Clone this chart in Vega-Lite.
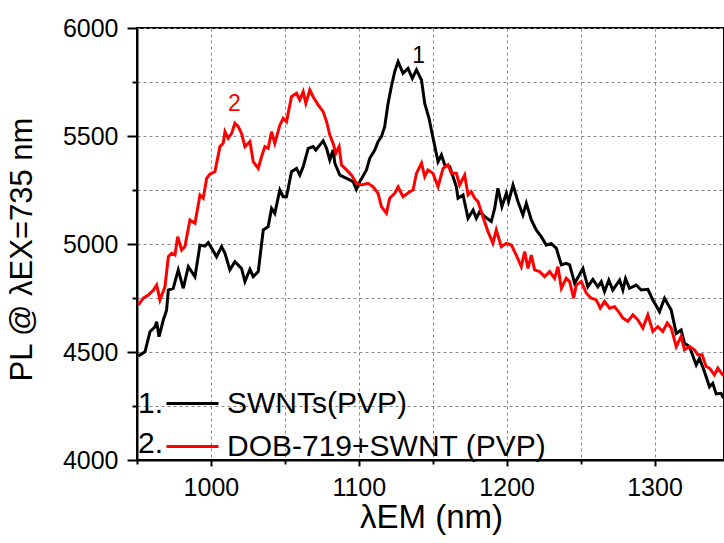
{
  "$schema": "https://vega.github.io/schema/vega-lite/v6.json",
  "width": 587,
  "height": 432,
  "autosize": {"type": "none"},
  "padding": {"left": 137, "top": 28, "right": 0, "bottom": 83},
  "config": {"font": "Liberation Sans", "view": {"stroke": "#000000", "strokeWidth": 2}},
  "datasets": {
    "spectra": [
      {"nm":950.9,"pl":4481,"s":"SWNTs(PVP)"},{"nm":955.4,"pl":4501,"s":"SWNTs(PVP)"},{"nm":958.8,"pl":4594,"s":"SWNTs(PVP)"},{"nm":962.2,"pl":4617,"s":"SWNTs(PVP)"},{"nm":963.3,"pl":4640,"s":"SWNTs(PVP)"},{"nm":964.9,"pl":4571,"s":"SWNTs(PVP)"},{"nm":967.8,"pl":4648,"s":"SWNTs(PVP)"},{"nm":970,"pl":4694,"s":"SWNTs(PVP)"},{"nm":971.2,"pl":4787,"s":"SWNTs(PVP)"},{"nm":974.5,"pl":4795,"s":"SWNTs(PVP)"},{"nm":977.9,"pl":4880,"s":"SWNTs(PVP)"},{"nm":981.3,"pl":4795,"s":"SWNTs(PVP)"},{"nm":984.7,"pl":4895,"s":"SWNTs(PVP)"},{"nm":989.2,"pl":4849,"s":"SWNTs(PVP)"},{"nm":992.6,"pl":4995,"s":"SWNTs(PVP)"},{"nm":995.9,"pl":4990,"s":"SWNTs(PVP)"},{"nm":998.2,"pl":5006,"s":"SWNTs(PVP)"},{"nm":1001,"pl":4975,"s":"SWNTs(PVP)"},{"nm":1003.8,"pl":4941,"s":"SWNTs(PVP)"},{"nm":1007.2,"pl":4988,"s":"SWNTs(PVP)"},{"nm":1009.5,"pl":4957,"s":"SWNTs(PVP)"},{"nm":1012.8,"pl":4880,"s":"SWNTs(PVP)"},{"nm":1016.2,"pl":4918,"s":"SWNTs(PVP)"},{"nm":1020.7,"pl":4887,"s":"SWNTs(PVP)"},{"nm":1023,"pl":4826,"s":"SWNTs(PVP)"},{"nm":1026.4,"pl":4883,"s":"SWNTs(PVP)"},{"nm":1028.6,"pl":4849,"s":"SWNTs(PVP)"},{"nm":1032,"pl":4872,"s":"SWNTs(PVP)"},{"nm":1035.4,"pl":5065,"s":"SWNTs(PVP)"},{"nm":1038.7,"pl":5080,"s":"SWNTs(PVP)"},{"nm":1041,"pl":5165,"s":"SWNTs(PVP)"},{"nm":1043.2,"pl":5142,"s":"SWNTs(PVP)"},{"nm":1046.6,"pl":5250,"s":"SWNTs(PVP)"},{"nm":1048.9,"pl":5219,"s":"SWNTs(PVP)"},{"nm":1051.1,"pl":5219,"s":"SWNTs(PVP)"},{"nm":1054.5,"pl":5335,"s":"SWNTs(PVP)"},{"nm":1057.9,"pl":5350,"s":"SWNTs(PVP)"},{"nm":1060.1,"pl":5319,"s":"SWNTs(PVP)"},{"nm":1062.4,"pl":5358,"s":"SWNTs(PVP)"},{"nm":1065.8,"pl":5443,"s":"SWNTs(PVP)"},{"nm":1069.1,"pl":5451,"s":"SWNTs(PVP)"},{"nm":1070.9,"pl":5435,"s":"SWNTs(PVP)"},{"nm":1073.6,"pl":5458,"s":"SWNTs(PVP)"},{"nm":1075.9,"pl":5478,"s":"SWNTs(PVP)"},{"nm":1078.2,"pl":5443,"s":"SWNTs(PVP)"},{"nm":1080.4,"pl":5389,"s":"SWNTs(PVP)"},{"nm":1082.6,"pl":5435,"s":"SWNTs(PVP)"},{"nm":1083.8,"pl":5374,"s":"SWNTs(PVP)"},{"nm":1087.2,"pl":5319,"s":"SWNTs(PVP)"},{"nm":1091.7,"pl":5304,"s":"SWNTs(PVP)"},{"nm":1096.2,"pl":5289,"s":"SWNTs(PVP)"},{"nm":1098.4,"pl":5253,"s":"SWNTs(PVP)"},{"nm":1100.7,"pl":5289,"s":"SWNTs(PVP)"},{"nm":1105.2,"pl":5343,"s":"SWNTs(PVP)"},{"nm":1107.4,"pl":5397,"s":"SWNTs(PVP)"},{"nm":1110.8,"pl":5435,"s":"SWNTs(PVP)"},{"nm":1113,"pl":5474,"s":"SWNTs(PVP)"},{"nm":1115.3,"pl":5497,"s":"SWNTs(PVP)"},{"nm":1117.5,"pl":5543,"s":"SWNTs(PVP)"},{"nm":1119.8,"pl":5651,"s":"SWNTs(PVP)"},{"nm":1122,"pl":5728,"s":"SWNTs(PVP)"},{"nm":1124.3,"pl":5798,"s":"SWNTs(PVP)"},{"nm":1126.6,"pl":5844,"s":"SWNTs(PVP)"},{"nm":1129.9,"pl":5790,"s":"SWNTs(PVP)"},{"nm":1133.3,"pl":5813,"s":"SWNTs(PVP)"},{"nm":1136.2,"pl":5767,"s":"SWNTs(PVP)"},{"nm":1139,"pl":5806,"s":"SWNTs(PVP)"},{"nm":1142.4,"pl":5759,"s":"SWNTs(PVP)"},{"nm":1144.6,"pl":5651,"s":"SWNTs(PVP)"},{"nm":1147.5,"pl":5582,"s":"SWNTs(PVP)"},{"nm":1149.1,"pl":5528,"s":"SWNTs(PVP)"},{"nm":1153.6,"pl":5381,"s":"SWNTs(PVP)"},{"nm":1155.9,"pl":5412,"s":"SWNTs(PVP)"},{"nm":1158.1,"pl":5366,"s":"SWNTs(PVP)"},{"nm":1161.5,"pl":5358,"s":"SWNTs(PVP)"},{"nm":1166,"pl":5265,"s":"SWNTs(PVP)"},{"nm":1167.1,"pl":5212,"s":"SWNTs(PVP)"},{"nm":1170.5,"pl":5227,"s":"SWNTs(PVP)"},{"nm":1173.9,"pl":5119,"s":"SWNTs(PVP)"},{"nm":1177.3,"pl":5157,"s":"SWNTs(PVP)"},{"nm":1179.5,"pl":5119,"s":"SWNTs(PVP)"},{"nm":1181.8,"pl":5150,"s":"SWNTs(PVP)"},{"nm":1185.1,"pl":5127,"s":"SWNTs(PVP)"},{"nm":1189.6,"pl":5104,"s":"SWNTs(PVP)"},{"nm":1191.9,"pl":5165,"s":"SWNTs(PVP)"},{"nm":1194.1,"pl":5258,"s":"SWNTs(PVP)"},{"nm":1196.8,"pl":5173,"s":"SWNTs(PVP)"},{"nm":1199.8,"pl":5235,"s":"SWNTs(PVP)"},{"nm":1201.3,"pl":5196,"s":"SWNTs(PVP)"},{"nm":1204.3,"pl":5273,"s":"SWNTs(PVP)"},{"nm":1207.7,"pl":5196,"s":"SWNTs(PVP)"},{"nm":1211,"pl":5134,"s":"SWNTs(PVP)"},{"nm":1213.3,"pl":5188,"s":"SWNTs(PVP)"},{"nm":1216.7,"pl":5111,"s":"SWNTs(PVP)"},{"nm":1220,"pl":5065,"s":"SWNTs(PVP)"},{"nm":1223.4,"pl":5034,"s":"SWNTs(PVP)"},{"nm":1226.8,"pl":4995,"s":"SWNTs(PVP)"},{"nm":1230.2,"pl":5003,"s":"SWNTs(PVP)"},{"nm":1233.6,"pl":4980,"s":"SWNTs(PVP)"},{"nm":1237,"pl":4903,"s":"SWNTs(PVP)"},{"nm":1240.3,"pl":4910,"s":"SWNTs(PVP)"},{"nm":1242.6,"pl":4903,"s":"SWNTs(PVP)"},{"nm":1246,"pl":4818,"s":"SWNTs(PVP)"},{"nm":1251.6,"pl":4887,"s":"SWNTs(PVP)"},{"nm":1254.9,"pl":4802,"s":"SWNTs(PVP)"},{"nm":1258.3,"pl":4836,"s":"SWNTs(PVP)"},{"nm":1261.7,"pl":4802,"s":"SWNTs(PVP)"},{"nm":1264,"pl":4826,"s":"SWNTs(PVP)"},{"nm":1266.2,"pl":4779,"s":"SWNTs(PVP)"},{"nm":1269.1,"pl":4833,"s":"SWNTs(PVP)"},{"nm":1271.8,"pl":4787,"s":"SWNTs(PVP)"},{"nm":1276.4,"pl":4833,"s":"SWNTs(PVP)"},{"nm":1278.6,"pl":4787,"s":"SWNTs(PVP)"},{"nm":1280.4,"pl":4840,"s":"SWNTs(PVP)"},{"nm":1283.1,"pl":4795,"s":"SWNTs(PVP)"},{"nm":1287.6,"pl":4810,"s":"SWNTs(PVP)"},{"nm":1291,"pl":4787,"s":"SWNTs(PVP)"},{"nm":1295.5,"pl":4790,"s":"SWNTs(PVP)"},{"nm":1298.9,"pl":4741,"s":"SWNTs(PVP)"},{"nm":1303.4,"pl":4687,"s":"SWNTs(PVP)"},{"nm":1306.8,"pl":4749,"s":"SWNTs(PVP)"},{"nm":1311.3,"pl":4694,"s":"SWNTs(PVP)"},{"nm":1314.7,"pl":4586,"s":"SWNTs(PVP)"},{"nm":1318,"pl":4602,"s":"SWNTs(PVP)"},{"nm":1320.3,"pl":4540,"s":"SWNTs(PVP)"},{"nm":1323.6,"pl":4525,"s":"SWNTs(PVP)"},{"nm":1328.2,"pl":4440,"s":"SWNTs(PVP)"},{"nm":1330.4,"pl":4471,"s":"SWNTs(PVP)"},{"nm":1333.8,"pl":4409,"s":"SWNTs(PVP)"},{"nm":1337.2,"pl":4339,"s":"SWNTs(PVP)"},{"nm":1339.4,"pl":4355,"s":"SWNTs(PVP)"},{"nm":1341.7,"pl":4306,"s":"SWNTs(PVP)"},{"nm":1345,"pl":4309,"s":"SWNTs(PVP)"},{"nm":1346.6,"pl":4286,"s":"SWNTs(PVP)"},
      {"nm":950.9,"pl":4718,"s":"DOB-719+SWNT (PVP)"},{"nm":954.3,"pl":4749,"s":"DOB-719+SWNT (PVP)"},{"nm":957.7,"pl":4764,"s":"DOB-719+SWNT (PVP)"},{"nm":961.1,"pl":4787,"s":"DOB-719+SWNT (PVP)"},{"nm":963.3,"pl":4810,"s":"DOB-719+SWNT (PVP)"},{"nm":965.5,"pl":4741,"s":"DOB-719+SWNT (PVP)"},{"nm":968.9,"pl":4802,"s":"DOB-719+SWNT (PVP)"},{"nm":971.2,"pl":4941,"s":"DOB-719+SWNT (PVP)"},{"nm":973.4,"pl":4957,"s":"DOB-719+SWNT (PVP)"},{"nm":975.7,"pl":4949,"s":"DOB-719+SWNT (PVP)"},{"nm":977.5,"pl":5034,"s":"DOB-719+SWNT (PVP)"},{"nm":980.2,"pl":4972,"s":"DOB-719+SWNT (PVP)"},{"nm":982.4,"pl":4988,"s":"DOB-719+SWNT (PVP)"},{"nm":985.8,"pl":5111,"s":"DOB-719+SWNT (PVP)"},{"nm":989.2,"pl":5096,"s":"DOB-719+SWNT (PVP)"},{"nm":992.6,"pl":5227,"s":"DOB-719+SWNT (PVP)"},{"nm":994.8,"pl":5212,"s":"DOB-719+SWNT (PVP)"},{"nm":997.1,"pl":5304,"s":"DOB-719+SWNT (PVP)"},{"nm":999.3,"pl":5323,"s":"DOB-719+SWNT (PVP)"},{"nm":1002.7,"pl":5335,"s":"DOB-719+SWNT (PVP)"},{"nm":1006.1,"pl":5451,"s":"DOB-719+SWNT (PVP)"},{"nm":1008.3,"pl":5466,"s":"DOB-719+SWNT (PVP)"},{"nm":1009.5,"pl":5520,"s":"DOB-719+SWNT (PVP)"},{"nm":1011.7,"pl":5489,"s":"DOB-719+SWNT (PVP)"},{"nm":1014,"pl":5512,"s":"DOB-719+SWNT (PVP)"},{"nm":1016.2,"pl":5559,"s":"DOB-719+SWNT (PVP)"},{"nm":1018.5,"pl":5543,"s":"DOB-719+SWNT (PVP)"},{"nm":1020.7,"pl":5512,"s":"DOB-719+SWNT (PVP)"},{"nm":1023,"pl":5451,"s":"DOB-719+SWNT (PVP)"},{"nm":1026.4,"pl":5474,"s":"DOB-719+SWNT (PVP)"},{"nm":1028.6,"pl":5381,"s":"DOB-719+SWNT (PVP)"},{"nm":1032,"pl":5350,"s":"DOB-719+SWNT (PVP)"},{"nm":1034.2,"pl":5404,"s":"DOB-719+SWNT (PVP)"},{"nm":1036.5,"pl":5451,"s":"DOB-719+SWNT (PVP)"},{"nm":1038.7,"pl":5443,"s":"DOB-719+SWNT (PVP)"},{"nm":1041,"pl":5520,"s":"DOB-719+SWNT (PVP)"},{"nm":1043.2,"pl":5466,"s":"DOB-719+SWNT (PVP)"},{"nm":1046.6,"pl":5550,"s":"DOB-719+SWNT (PVP)"},{"nm":1048.9,"pl":5582,"s":"DOB-719+SWNT (PVP)"},{"nm":1051.1,"pl":5566,"s":"DOB-719+SWNT (PVP)"},{"nm":1054.5,"pl":5682,"s":"DOB-719+SWNT (PVP)"},{"nm":1057.9,"pl":5698,"s":"DOB-719+SWNT (PVP)"},{"nm":1060.1,"pl":5667,"s":"DOB-719+SWNT (PVP)"},{"nm":1062.4,"pl":5705,"s":"DOB-719+SWNT (PVP)"},{"nm":1064.2,"pl":5651,"s":"DOB-719+SWNT (PVP)"},{"nm":1066.9,"pl":5713,"s":"DOB-719+SWNT (PVP)"},{"nm":1069.1,"pl":5682,"s":"DOB-719+SWNT (PVP)"},{"nm":1072.5,"pl":5644,"s":"DOB-719+SWNT (PVP)"},{"nm":1075.9,"pl":5613,"s":"DOB-719+SWNT (PVP)"},{"nm":1078.2,"pl":5566,"s":"DOB-719+SWNT (PVP)"},{"nm":1080.4,"pl":5505,"s":"DOB-719+SWNT (PVP)"},{"nm":1082.6,"pl":5466,"s":"DOB-719+SWNT (PVP)"},{"nm":1084.5,"pl":5420,"s":"DOB-719+SWNT (PVP)"},{"nm":1086.7,"pl":5451,"s":"DOB-719+SWNT (PVP)"},{"nm":1088.3,"pl":5366,"s":"DOB-719+SWNT (PVP)"},{"nm":1091.7,"pl":5343,"s":"DOB-719+SWNT (PVP)"},{"nm":1095.1,"pl":5319,"s":"DOB-719+SWNT (PVP)"},{"nm":1098.4,"pl":5281,"s":"DOB-719+SWNT (PVP)"},{"nm":1101.8,"pl":5273,"s":"DOB-719+SWNT (PVP)"},{"nm":1106.3,"pl":5281,"s":"DOB-719+SWNT (PVP)"},{"nm":1109.7,"pl":5265,"s":"DOB-719+SWNT (PVP)"},{"nm":1113,"pl":5235,"s":"DOB-719+SWNT (PVP)"},{"nm":1115.3,"pl":5173,"s":"DOB-719+SWNT (PVP)"},{"nm":1118.7,"pl":5142,"s":"DOB-719+SWNT (PVP)"},{"nm":1120.9,"pl":5212,"s":"DOB-719+SWNT (PVP)"},{"nm":1124.3,"pl":5235,"s":"DOB-719+SWNT (PVP)"},{"nm":1126.6,"pl":5265,"s":"DOB-719+SWNT (PVP)"},{"nm":1129.9,"pl":5219,"s":"DOB-719+SWNT (PVP)"},{"nm":1134.5,"pl":5242,"s":"DOB-719+SWNT (PVP)"},{"nm":1136.7,"pl":5250,"s":"DOB-719+SWNT (PVP)"},{"nm":1139,"pl":5327,"s":"DOB-719+SWNT (PVP)"},{"nm":1142.4,"pl":5374,"s":"DOB-719+SWNT (PVP)"},{"nm":1144.6,"pl":5312,"s":"DOB-719+SWNT (PVP)"},{"nm":1146.8,"pl":5343,"s":"DOB-719+SWNT (PVP)"},{"nm":1150.2,"pl":5327,"s":"DOB-719+SWNT (PVP)"},{"nm":1153.6,"pl":5265,"s":"DOB-719+SWNT (PVP)"},{"nm":1157,"pl":5350,"s":"DOB-719+SWNT (PVP)"},{"nm":1160.3,"pl":5366,"s":"DOB-719+SWNT (PVP)"},{"nm":1162.6,"pl":5327,"s":"DOB-719+SWNT (PVP)"},{"nm":1166,"pl":5327,"s":"DOB-719+SWNT (PVP)"},{"nm":1168.2,"pl":5273,"s":"DOB-719+SWNT (PVP)"},{"nm":1171.6,"pl":5319,"s":"DOB-719+SWNT (PVP)"},{"nm":1173.9,"pl":5227,"s":"DOB-719+SWNT (PVP)"},{"nm":1176.1,"pl":5242,"s":"DOB-719+SWNT (PVP)"},{"nm":1178.4,"pl":5212,"s":"DOB-719+SWNT (PVP)"},{"nm":1180.6,"pl":5196,"s":"DOB-719+SWNT (PVP)"},{"nm":1182.9,"pl":5150,"s":"DOB-719+SWNT (PVP)"},{"nm":1184.7,"pl":5111,"s":"DOB-719+SWNT (PVP)"},{"nm":1187.4,"pl":5057,"s":"DOB-719+SWNT (PVP)"},{"nm":1190.7,"pl":5003,"s":"DOB-719+SWNT (PVP)"},{"nm":1193,"pl":5065,"s":"DOB-719+SWNT (PVP)"},{"nm":1196.4,"pl":4988,"s":"DOB-719+SWNT (PVP)"},{"nm":1199.8,"pl":5003,"s":"DOB-719+SWNT (PVP)"},{"nm":1203.2,"pl":4995,"s":"DOB-719+SWNT (PVP)"},{"nm":1206.5,"pl":4949,"s":"DOB-719+SWNT (PVP)"},{"nm":1209.9,"pl":4895,"s":"DOB-719+SWNT (PVP)"},{"nm":1212.2,"pl":4965,"s":"DOB-719+SWNT (PVP)"},{"nm":1214.4,"pl":4887,"s":"DOB-719+SWNT (PVP)"},{"nm":1216.7,"pl":4949,"s":"DOB-719+SWNT (PVP)"},{"nm":1218.9,"pl":4880,"s":"DOB-719+SWNT (PVP)"},{"nm":1222.3,"pl":4872,"s":"DOB-719+SWNT (PVP)"},{"nm":1225.7,"pl":4849,"s":"DOB-719+SWNT (PVP)"},{"nm":1229.1,"pl":4872,"s":"DOB-719+SWNT (PVP)"},{"nm":1232.4,"pl":4841,"s":"DOB-719+SWNT (PVP)"},{"nm":1234.7,"pl":4895,"s":"DOB-719+SWNT (PVP)"},{"nm":1237,"pl":4795,"s":"DOB-719+SWNT (PVP)"},{"nm":1240.3,"pl":4841,"s":"DOB-719+SWNT (PVP)"},{"nm":1242.6,"pl":4826,"s":"DOB-719+SWNT (PVP)"},{"nm":1245.3,"pl":4749,"s":"DOB-719+SWNT (PVP)"},{"nm":1247.1,"pl":4810,"s":"DOB-719+SWNT (PVP)"},{"nm":1250.5,"pl":4826,"s":"DOB-719+SWNT (PVP)"},{"nm":1253.9,"pl":4772,"s":"DOB-719+SWNT (PVP)"},{"nm":1257.3,"pl":4749,"s":"DOB-719+SWNT (PVP)"},{"nm":1260.6,"pl":4741,"s":"DOB-719+SWNT (PVP)"},{"nm":1263.3,"pl":4703,"s":"DOB-719+SWNT (PVP)"},{"nm":1266.2,"pl":4734,"s":"DOB-719+SWNT (PVP)"},{"nm":1269.6,"pl":4703,"s":"DOB-719+SWNT (PVP)"},{"nm":1273,"pl":4710,"s":"DOB-719+SWNT (PVP)"},{"nm":1276.4,"pl":4680,"s":"DOB-719+SWNT (PVP)"},{"nm":1278.6,"pl":4657,"s":"DOB-719+SWNT (PVP)"},{"nm":1282,"pl":4642,"s":"DOB-719+SWNT (PVP)"},{"nm":1285.4,"pl":4672,"s":"DOB-719+SWNT (PVP)"},{"nm":1288.7,"pl":4649,"s":"DOB-719+SWNT (PVP)"},{"nm":1292.1,"pl":4611,"s":"DOB-719+SWNT (PVP)"},{"nm":1295.5,"pl":4672,"s":"DOB-719+SWNT (PVP)"},{"nm":1298.9,"pl":4595,"s":"DOB-719+SWNT (PVP)"},{"nm":1302.3,"pl":4618,"s":"DOB-719+SWNT (PVP)"},{"nm":1305.6,"pl":4595,"s":"DOB-719+SWNT (PVP)"},{"nm":1308.6,"pl":4634,"s":"DOB-719+SWNT (PVP)"},{"nm":1311.3,"pl":4611,"s":"DOB-719+SWNT (PVP)"},{"nm":1314.7,"pl":4525,"s":"DOB-719+SWNT (PVP)"},{"nm":1318,"pl":4572,"s":"DOB-719+SWNT (PVP)"},{"nm":1320.3,"pl":4510,"s":"DOB-719+SWNT (PVP)"},{"nm":1323.6,"pl":4525,"s":"DOB-719+SWNT (PVP)"},{"nm":1327,"pl":4510,"s":"DOB-719+SWNT (PVP)"},{"nm":1329.3,"pl":4487,"s":"DOB-719+SWNT (PVP)"},{"nm":1332.2,"pl":4487,"s":"DOB-719+SWNT (PVP)"},{"nm":1334.9,"pl":4433,"s":"DOB-719+SWNT (PVP)"},{"nm":1337.2,"pl":4425,"s":"DOB-719+SWNT (PVP)"},{"nm":1340.5,"pl":4394,"s":"DOB-719+SWNT (PVP)"},{"nm":1342.8,"pl":4425,"s":"DOB-719+SWNT (PVP)"},{"nm":1346.6,"pl":4390,"s":"DOB-719+SWNT (PVP)"}
    ],
    "ann": [
      {"nm": 1140.5, "pl": 5838, "num": "1", "s": "SWNTs(PVP)"},
      {"nm": 1015.9, "pl": 5616, "num": "2", "s": "DOB-719+SWNT (PVP)"}
    ]
  },
  "layer": [
    {
      "data": {"name": "spectra"},
      "mark": {"type": "line", "strokeWidth": 3, "clip": true},
      "encoding": {
        "x": {
          "field": "nm", "type": "quantitative",
          "scale": {"domain": [950, 1347], "nice": false, "zero": false},
          "title": "λEM (nm)",
          "axis": {
            "values": [950, 1000, 1050, 1100, 1150, 1200, 1250, 1300],
            "format": "d",
            "labelExpr": "datum.value % 100 === 0 ? datum.label : ''",
            "tickSize": {"condition": {"test": "datum.value % 100 === 0", "value": 6}, "value": 4},
            "tickColor": "#000000", "tickWidth": 2,
            "domainColor": "#000000", "domainWidth": 2,
            "labelFontSize": 25, "labelColor": "#000000", "labelPadding": 9,
            "labelFlush": false, "labelOverlap": false,
            "grid": true, "gridColor": "#888888", "gridDash": [3, 3], "gridWidth": 1,
            "titleFontSize": 33, "titleFontWeight": "normal", "titleColor": "#000000",
            "titleX": 294, "titleY": 67, "titleBaseline": "alphabetic", "titleAlign": "center"
          }
        },
        "y": {
          "field": "pl", "type": "quantitative",
          "scale": {"domain": [4000, 6000], "nice": false, "zero": false},
          "title": "PL @ λEX=735 nm",
          "axis": {
            "values": [4000, 4250, 4500, 4750, 5000, 5250, 5500, 5750, 6000],
            "format": "d",
            "labelExpr": "datum.value % 500 === 0 ? datum.label : ''",
            "tickSize": {"condition": {"test": "datum.value % 500 === 0", "value": 10}, "value": 5},
            "tickColor": "#000000", "tickWidth": 2,
            "domainColor": "#000000", "domainWidth": 2,
            "labelFontSize": 25, "labelColor": "#000000", "labelPadding": 9,
            "labelFlush": false, "labelOverlap": false,
            "grid": true, "gridColor": "#888888", "gridDash": [3, 3], "gridWidth": 1,
            "titleFontSize": 31, "titleFontWeight": "normal", "titleColor": "#000000",
            "titleX": -106, "titleY": 221, "titleAngle": 270, "titleBaseline": "alphabetic", "titleAlign": "center"
          }
        },
        "color": {
          "field": "s", "type": "nominal",
          "scale": {"domain": ["SWNTs(PVP)", "DOB-719+SWNT (PVP)"], "range": ["#000000", "#ff0000"]},
          "legend": {
            "title": null, "orient": "none", "legendX": 28, "legendY": 348, "padding": 0,
            "symbolType": "stroke", "symbolSize": 2704, "symbolStrokeWidth": 3,
            "labelFontSize": 30, "labelColor": "#000000", "labelOffset": 7, "labelLimit": 0,
            "rowPadding": -15
          }
        }
      }
    },
    {
      "data": {"name": "ann"},
      "mark": {"type": "text", "fontSize": 23, "align": "center", "baseline": "alphabetic"},
      "encoding": {
        "x": {"field": "nm", "type": "quantitative"},
        "y": {"field": "pl", "type": "quantitative"},
        "text": {"field": "num"},
        "color": {"field": "s", "type": "nominal", "legend": null},
        "opacity": {
          "field": "num", "type": "nominal",
          "scale": {"range": [1, 1]},
          "legend": {
            "title": null, "orient": "none", "legendX": -30, "legendY": 361, "padding": 0,
            "symbolOpacity": 0, "symbolSize": 0, "symbolStrokeWidth": 0,
            "labelFontSize": 30, "labelColor": "#000000", "labelOffset": 1, "rowPadding": 10,
            "labelExpr": "datum.label + '.'"
          }
        }
      }
    }
  ]
}
